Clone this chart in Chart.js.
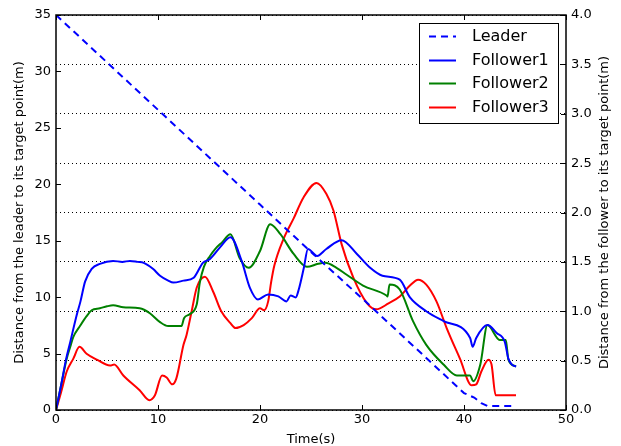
<!DOCTYPE html>
<html>
<head>
<meta charset="utf-8">
<script src="https://cdn.jsdelivr.net/npm/chart.js@4/dist/chart.umd.min.js"></script>
<style>
html,body{margin:0;padding:0;background:#fff;}
#wrap{width:621px;height:446px;}
</style>
</head>
<body>
<div id="wrap"><canvas id="c" width="621" height="446"></canvas></div>
<script>
// ---- data ----
const seriesNames = ["Leader", "Follower1", "Follower2", "Follower3"];

const leaderT = [0, 5, 10, 15, 20, 25, 30, 35, 40, 41, 41.7, 42.3, 45];
const leaderV = [35, 30.8, 26.6, 22.4, 18.2, 14.0, 9.9, 5.7, 1.5, 1.1, 0.6, 0.35, 0.35];

const f1T = [0, 0.5, 1.0, 1.4, 2.0, 2.4, 2.85, 3.5, 4.3, 5.6, 6.5, 7.25, 8.0, 8.6, 9.5, 10.2, 11.0, 11.5, 12.5, 13.5, 14.4, 15.1, 16.1, 17.1, 18.2, 19.0, 19.8, 20.8, 21.8, 22.6, 23.0, 23.5, 23.8, 24.3, 24.7, 25.6, 26.5, 28.0, 29.5, 30.8, 32.0, 33.7, 34.7, 36.3, 38.0, 40.6, 40.85, 41.2, 42.3, 43.2, 44.0, 44.35, 44.7, 45.1];
const f1V = [0, 0.25, 0.52, 0.69, 0.95, 1.10, 1.30, 1.43, 1.48, 1.51, 1.50, 1.51, 1.50, 1.49, 1.43, 1.36, 1.31, 1.29, 1.31, 1.34, 1.49, 1.53, 1.65, 1.75, 1.51, 1.24, 1.12, 1.17, 1.15, 1.10, 1.16, 1.14, 1.22, 1.44, 1.63, 1.56, 1.63, 1.72, 1.58, 1.44, 1.36, 1.32, 1.14, 1.00, 0.90, 0.73, 0.64, 0.73, 0.86, 0.78, 0.69, 0.52, 0.46, 0.44];

const f2T = [0, 0.5, 1.05, 1.4, 1.7, 2.35, 3.0, 3.5, 4.3, 5.0, 5.6, 6.6, 8.2, 9.2, 10.2, 11.0, 12.3, 12.55, 13.1, 13.8, 14.1, 14.5, 15.1, 15.6, 16.3, 17.1, 18.0, 18.9, 20.0, 21.0, 22.0, 23.3, 24.6, 25.7, 26.4, 27.5, 28.5, 30.1, 32.4, 32.5, 32.7, 33.7, 35.0, 36.3, 38.0, 39.3, 40.6, 40.9, 41.6, 42.3, 43.5, 44.1, 44.35, 45.1];
const f2V = [0, 0.25, 0.52, 0.64, 0.74, 0.85, 0.95, 1.01, 1.03, 1.05, 1.06, 1.04, 1.03, 0.98, 0.89, 0.85, 0.85, 0.93, 0.97, 1.07, 1.29, 1.45, 1.56, 1.63, 1.70, 1.78, 1.54, 1.44, 1.61, 1.88, 1.78, 1.58, 1.45, 1.48, 1.49, 1.44, 1.37, 1.26, 1.16, 1.15, 1.27, 1.22, 0.90, 0.66, 0.46, 0.35, 0.35, 0.29, 0.46, 0.86, 0.71, 0.71, 0.51, 0.44];

const f3T = [0, 0.5, 1.05, 1.7, 2.3, 3.0, 4.0, 5.3, 5.7, 6.6, 8.2, 9.15, 9.7, 10.4, 10.85, 11.4, 11.8, 12.5, 12.8, 13.3, 13.8, 14.6, 15.4, 16.2, 17.1, 17.6, 18.4, 19.2, 20.0, 20.4, 20.8, 21.1, 21.4, 22.3, 23.3, 24.25, 25.55, 26.5, 27.2, 28.0, 29.15, 30.5, 31.4, 32.6, 33.7, 34.7, 35.5, 36.3, 37.3, 38.3, 39.6, 40.75, 41.2, 41.7, 42.4, 42.7, 43.1, 45.1];
const f3V = [0, 0.18, 0.39, 0.52, 0.64, 0.57, 0.51, 0.45, 0.46, 0.35, 0.20, 0.10, 0.15, 0.35, 0.33, 0.26, 0.32, 0.66, 0.76, 1.00, 1.24, 1.35, 1.20, 1.00, 0.88, 0.83, 0.86, 0.93, 1.03, 1.01, 1.10, 1.30, 1.46, 1.73, 1.94, 2.15, 2.30, 2.19, 2.02, 1.68, 1.34, 1.08, 1.02, 1.08, 1.15, 1.26, 1.32, 1.27, 1.10, 0.83, 0.52, 0.25, 0.26, 0.39, 0.51, 0.46, 0.15, 0.15];

const xTicks = [0, 10, 20, 30, 40, 50];
const yLeftTicks = [0, 5, 10, 15, 20, 25, 30, 35];
const yRightTicks = [0.0, 0.5, 1.0, 1.5, 2.0, 2.5, 3.0, 3.5, 4.0];

const xTitle = "Time(s)";
const yLeftTitle = "Distance from the leader to its target point(m)";
const yRightTitle = "Distance from the follower to its target point(m)";

// ---- build ----
const pts = (t, v) => t.map((x, i) => ({x: x, y: v[i]}));
const FONT = "'DejaVu Sans', sans-serif";

const frameTicks = {
  id: 'frameTicks',
  afterDatasetsDraw(chart) {
    const {ctx, chartArea: {left, right, top, bottom}, scales} = chart;
    ctx.save();
    ctx.strokeStyle = '#000';
    ctx.lineWidth = 1;
    const L = 5;
    ctx.beginPath();
    scales.x.ticks.forEach(t => {
      const p = Math.round(scales.x.getPixelForValue(t.value)) + 0.5;
      ctx.moveTo(p, bottom); ctx.lineTo(p, bottom - L);
      ctx.moveTo(p, top); ctx.lineTo(p, top + L);
    });
    scales.y.ticks.forEach(t => {
      const p = Math.round(scales.y.getPixelForValue(t.value)) + 0.5;
      ctx.moveTo(left, p); ctx.lineTo(left + L, p);
    });
    scales.y1.ticks.forEach(t => {
      const p = Math.round(scales.y1.getPixelForValue(t.value)) + 0.5;
      ctx.moveTo(right, p); ctx.lineTo(right - L, p);
    });
    ctx.stroke();
    ctx.lineWidth = 1.5;
    ctx.strokeRect(left, top, right - left, bottom - top);
    ctx.restore();
  }
};

// right-axis title reads bottom-to-top, like the left one
const rightTitle = {
  id: 'rightTitle',
  afterDraw(chart) {
    const s = chart.scales.y1;
    const {ctx} = chart;
    ctx.save();
    ctx.font = "13px " + FONT;
    ctx.fillStyle = '#000';
    ctx.textAlign = 'center';
    ctx.textBaseline = 'middle';
    ctx.translate(s.right - 16, (s.top + s.bottom) / 2);
    ctx.rotate(-Math.PI / 2);
    ctx.fillText(yRightTitle, 0, 0);
    ctx.restore();
  }
};

const boxLegend = {
  id: 'boxLegend',
  afterDraw(chart) {
    const {ctx, chartArea: {right, top}} = chart;
    const w = 139, h = 100;
    const x0 = right - 8 - w, y0 = top + 8;
    ctx.save();
    ctx.fillStyle = '#fff';
    ctx.fillRect(x0, y0, w, h);
    ctx.strokeStyle = '#000';
    ctx.lineWidth = 1;
    ctx.strokeRect(x0 + 0.5, y0 + 0.5, w, h);
    ctx.font = "16px " + FONT;
    ctx.textBaseline = 'middle';
    ctx.textAlign = 'left';
    chart.data.datasets.forEach((ds, i) => {
      const cy = Math.round(y0 + 13 + i * 23.6) + 0.5;
      ctx.strokeStyle = ds.borderColor;
      ctx.lineWidth = 2;
      ctx.setLineDash(ds.borderDash || []);
      ctx.beginPath();
      ctx.moveTo(x0 + 10, cy); ctx.lineTo(x0 + 37, cy);
      ctx.stroke();
      ctx.setLineDash([]);
      ctx.fillStyle = '#000';
      ctx.fillText(ds.label, x0 + 53, cy);
    });
    ctx.restore();
  }
};

const common = {pointRadius: 0, borderWidth: 2, fill: false, cubicInterpolationMode: 'monotone'};

new Chart(document.getElementById('c'), {
  type: 'line',
  data: {
    datasets: [
      Object.assign({label: seriesNames[0], data: pts(leaderT, leaderV), borderColor: '#0000ff', borderDash: [7, 5], yAxisID: 'y'}, common, {cubicInterpolationMode: 'default', tension: 0}),
      Object.assign({label: seriesNames[1], data: pts(f1T, f1V), borderColor: '#0000ff', yAxisID: 'y1'}, common),
      Object.assign({label: seriesNames[2], data: pts(f2T, f2V), borderColor: '#008000', yAxisID: 'y1'}, common),
      Object.assign({label: seriesNames[3], data: pts(f3T, f3V), borderColor: '#ff0000', yAxisID: 'y1'}, common)
    ]
  },
  options: {
    responsive: false,
    animation: false,
    devicePixelRatio: 1,
    layout: {padding: {top: 15, left: 0, right: 0, bottom: 0}},
    plugins: {legend: {display: false}, tooltip: {enabled: false}},
    scales: {
      x: {
        type: 'linear', min: 0, max: 50,
        afterBuildTicks: s => { s.ticks = xTicks.map(v => ({value: v})); },
        afterFit: s => { s.height = 36; },
        grid: {display: false, drawTicks: false},
        border: {display: false},
        ticks: {color: '#000', font: {family: FONT, size: 13}, padding: 2, maxRotation: 0},
        title: {display: true, text: xTitle, color: '#000', font: {family: FONT, size: 13, lineHeight: 1.0}, padding: {top: 0, bottom: 0}}
      },
      y: {
        type: 'linear', position: 'left', min: 0, max: 35,
        afterBuildTicks: s => { s.ticks = yLeftTicks.map(v => ({value: v})); },
        afterFit: s => { s.width = 56; },
        grid: {display: false, drawTicks: false},
        border: {display: false},
        ticks: {color: '#000', font: {family: FONT, size: 13}, padding: 5},
        title: {display: true, text: yLeftTitle, color: '#000', font: {family: FONT, size: 13}, padding: {top: 12, bottom: 0}}
      },
      y1: {
        type: 'linear', position: 'right', min: 0, max: 4,
        afterBuildTicks: s => { s.ticks = yRightTicks.map(v => ({value: v})); },
        afterFit: s => { s.width = 55; },
        grid: {display: true, drawTicks: false, color: '#000', lineWidth: 1},
        border: {display: false, dash: [1, 3]},
        ticks: {color: '#000', font: {family: FONT, size: 13}, padding: 5, callback: v => Number(v).toFixed(1)},
        title: {display: false, text: yRightTitle}
      }
    }
  },
  plugins: [frameTicks, rightTitle, boxLegend]
});
</script>
</body>
</html>
